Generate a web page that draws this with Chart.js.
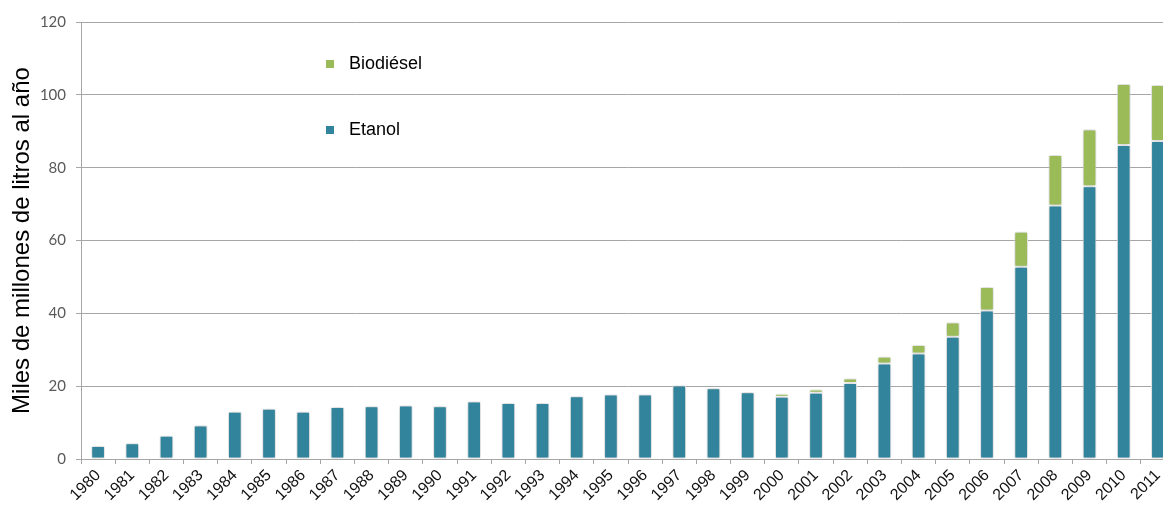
<!DOCTYPE html>
<html>
<head>
<meta charset="utf-8">
<script src="https://cdn.jsdelivr.net/npm/chart.js@4/dist/chart.umd.min.js"></script>
<style>
  html, body { margin: 0; padding: 0; background: #fff; overflow: hidden; width: 1163px; height: 505px; }
  #wrap { position: absolute; left: 0; top: 0; width: 1180px; height: 505px; }
</style>
</head>
<body>
<div id="wrap"><canvas id="c" width="1180" height="505"></canvas></div>
<script>
const years = ['1980','1981','1982','1983','1984','1985','1986','1987','1988','1989','1990','1991','1992','1993','1994','1995','1996','1997','1998','1999','2000','2001','2002','2003','2004','2005','2006','2007','2008','2009','2010','2011'];
const etanol = [3.6,4.3,6.4,9.2,13.0,13.8,13.0,14.3,14.5,14.7,14.5,15.8,15.4,15.4,17.2,17.7,17.7,20.2,19.4,18.3,17.1,18.2,20.9,26.2,29.0,33.6,40.8,52.8,69.6,74.9,86.2,87.3];
const biodiesel = [null,null,null,null,null,null,null,null,null,null,null,null,null,null,null,null,null,null,null,null,0.8,0.9,1.2,1.9,2.3,3.9,6.4,9.6,13.9,15.6,16.8,15.4];
const yTicks = [0,20,40,60,80,100,120];
const seriesNames = ['Etanol','Biodiésel'];
const colEtanol = '#31849b';
const colBio = '#9bbb59';

const shadowPlugin = {
  id: 'shadow',
  beforeDatasetsDraw(chart) {
    const ctx = chart.ctx;
    ctx.save();
    ctx.shadowColor = 'rgba(0,0,0,0.3)';
    ctx.shadowBlur = 4;
    ctx.shadowOffsetX = 0;
    ctx.shadowOffsetY = 0;
  },
  afterDatasetsDraw(chart) { chart.ctx.restore(); }
};

const legendPlugin = {
  id: 'customLegend',
  afterDraw(chart) {
    const ctx = chart.ctx;
    ctx.save();
    ctx.font = '18px "Liberation Sans", Arial, sans-serif';
    ctx.textBaseline = 'middle';
    const items = [[seriesNames[1], colBio, 64], [seriesNames[0], colEtanol, 130]];
    items.forEach(([label, col, y]) => {
      ctx.fillStyle = col;
      ctx.fillRect(326, y - 4, 8, 8);
      ctx.fillStyle = '#000';
      ctx.fillText(label, 349, y);
    });
    ctx.restore();
  }
};

Chart.defaults.font.family = '"Liberation Sans", Arial, sans-serif';

new Chart(document.getElementById('c'), {
  type: 'bar',
  data: {
    labels: years,
    datasets: [
      { label: seriesNames[0], data: etanol, backgroundColor: colEtanol, borderColor: '#ffffff', borderWidth: 1, borderSkipped: false, categoryPercentage: 1, barPercentage: 0.4 },
      { label: seriesNames[1], data: biodiesel, backgroundColor: colBio, borderColor: '#ffffff', borderWidth: 1, borderSkipped: false, categoryPercentage: 1, barPercentage: 0.4 }
    ]
  },
  options: {
    responsive: false,
    animation: false,
    layout: { padding: { top: 22, right: 5, bottom: 0, left: 0 } },
    plugins: { legend: { display: false }, tooltip: { enabled: false } },
    scales: {
      x: {
        stacked: true,
        afterFit(scale) { scale.height = 46; },
        grid: { display: true, drawOnChartArea: false, offset: true, tickLength: 5, color: '#a6a6a6' },
        border: { color: '#a6a6a6' },
        ticks: { minRotation: 45, maxRotation: 45, padding: 2, color: '#111', font: { size: 16 } }
      },
      y: {
        stacked: true,
        min: 0, max: 120,
        afterFit(scale) { scale.width = 81; },
        afterBuildTicks(scale) { scale.ticks = yTicks.map(v => ({ value: v })); },
        grid: { color: '#a6a6a6', tickLength: 5 },
        border: { color: '#a6a6a6' },
        ticks: { padding: 10, color: '#595959', font: { family: 'Lato, "Open Sans", sans-serif', size: 15 } },
        title: { display: true, text: 'Miles de millones de litros al año', color: '#000', font: { size: 24 }, padding: { top: 8, bottom: 0 } }
      }
    }
  },
  plugins: [shadowPlugin, legendPlugin]
});
</script>
</body>
</html>
